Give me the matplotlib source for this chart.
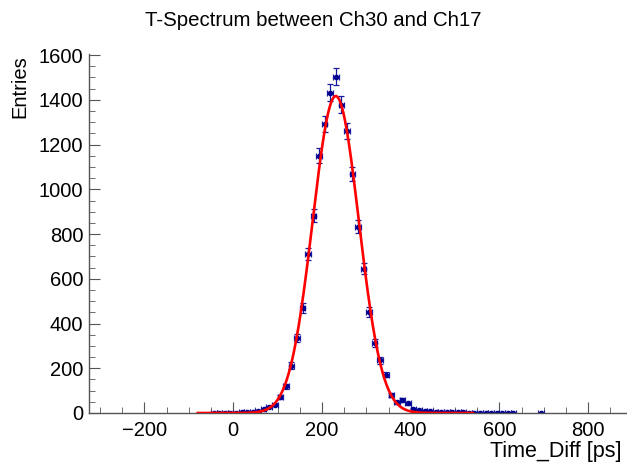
"""
T-Spectrum between Ch30 and Ch17: histogram of time differences
with sqrt(N) error bars and a gaussian fit over the peak.
"""

import numpy as np
import matplotlib.pyplot as plt

plt.rcParams['font.family'] = ['Liberation Sans', 'DejaVu Sans']

# Histogram: 12.5 ps bins
bin_width = 12.5
bin_centers = [-43.75, -31.25, -18.75, -6.25, 6.25, 18.75, 31.25, 43.75,
               56.25, 68.75, 81.25, 93.75, 106.25, 118.75, 131.25, 143.75,
               156.25, 168.75, 181.25, 193.75, 206.25, 218.75, 231.25, 243.75,
               256.25, 268.75, 281.25, 293.75, 306.25, 318.75, 331.25, 343.75,
               356.25, 368.75, 381.25, 393.75, 406.25, 418.75, 431.25, 443.75,
               456.25, 468.75, 481.25, 493.75, 506.25, 518.75, 531.25, 543.75,
               556.25, 568.75, 581.25, 593.75, 606.25, 618.75, 631.25, 693.75]
entries = [1, 1, 2, 2, 2, 3, 3, 5,
           10, 16, 26, 38, 72, 120, 212, 336,
           468, 710, 882, 1150, 1290, 1432, 1503, 1378,
           1262, 1068, 833, 645, 452, 315, 236, 172,
           80, 48, 58, 43, 19, 13, 10, 7,
           6, 5, 4, 4, 3, 3, 2, 2,
           2, 1, 1, 1, 1, 1, 1, 1]

fit_range = (-80, 540)

x_range = (-325, 887.5)
y_range = (0, 1605)


def gaus(x, a, mu, sig):
    return a * np.exp(-0.5 * ((x - mu) / sig) ** 2)


def fit_gaus(x, y, lo, hi):
    # chi2 fit (errors sqrt(N)) with a few Gauss-Newton steps
    m = (x >= lo) & (x <= hi) & (y > 0)
    x, y = x[m], y[m]
    w = 1.0 / y
    a, mu = y.max(), np.sum(x * y) / y.sum()
    sig = np.sqrt(np.sum(y * (x - mu) ** 2) / y.sum())
    p = np.array([a, mu, sig])
    for _ in range(50):
        f = gaus(x, *p)
        e = np.exp(-0.5 * ((x - p[1]) / p[2]) ** 2)
        J = np.column_stack([e,
                             f * (x - p[1]) / p[2] ** 2,
                             f * (x - p[1]) ** 2 / p[2] ** 3])
        JW = J * w[:, None]
        step = np.linalg.solve(J.T @ JW, JW.T @ (y - f))
        p = p + step
        if np.all(np.abs(step) < 1e-8):
            break
    return p


x = np.array(bin_centers)
y = np.array(entries, dtype=float)
par = fit_gaus(x, y, *fit_range)

fig = plt.figure(figsize=(6.27, 4.66), dpi=100)
ax = fig.add_axes([89 / 627, 53 / 466, 538 / 627, 359 / 466])

navy = '#000090'
ax.errorbar(x, y, xerr=bin_width / 2, yerr=np.sqrt(y), fmt='o',
            color=navy, ecolor='#1a1aa0', markersize=3, elinewidth=0.9,
            capsize=2.5, capthick=0.9, zorder=2)

xf = np.linspace(fit_range[0], fit_range[1], 600)
ax.plot(xf, gaus(xf, *par), color='red', lw=1.9, zorder=3)

ax.set_xlim(*x_range)
ax.set_ylim(*y_range)

for side in ['top', 'right']:
    ax.spines[side].set_visible(False)
for side in ['left', 'bottom']:
    ax.spines[side].set_color('#555555')
    ax.spines[side].set_linewidth(1.0)

ax.set_xticks(np.arange(-200, 801, 200))
ax.set_xticks(np.arange(-300, 851, 50), minor=True)
ax.set_yticks(np.arange(0, 1601, 200))
ax.set_yticks(np.arange(0, 1601, 50), minor=True)
ax.tick_params(which='both', direction='in', color='#555555', labelsize=14.5)
ax.tick_params(which='major', length=8)
ax.tick_params(which='minor', length=4)
ax.tick_params(axis='x', pad=6)
ax.tick_params(axis='y', pad=4)

fig.text(0.5, 1 - 20 / 466, 'T-Spectrum between Ch30 and Ch17', ha='center',
         va='center', fontsize=14.7)
fig.text(622 / 627, 1 - 451 / 466, 'Time_Diff [ps]', ha='right',
         va='center', fontsize=15.5)
fig.text(20 / 627, 1 - 55 / 466, 'Entries', ha='center', va='top',
         rotation=90, fontsize=14.5)

fig.savefig('out.png', dpi=100)
